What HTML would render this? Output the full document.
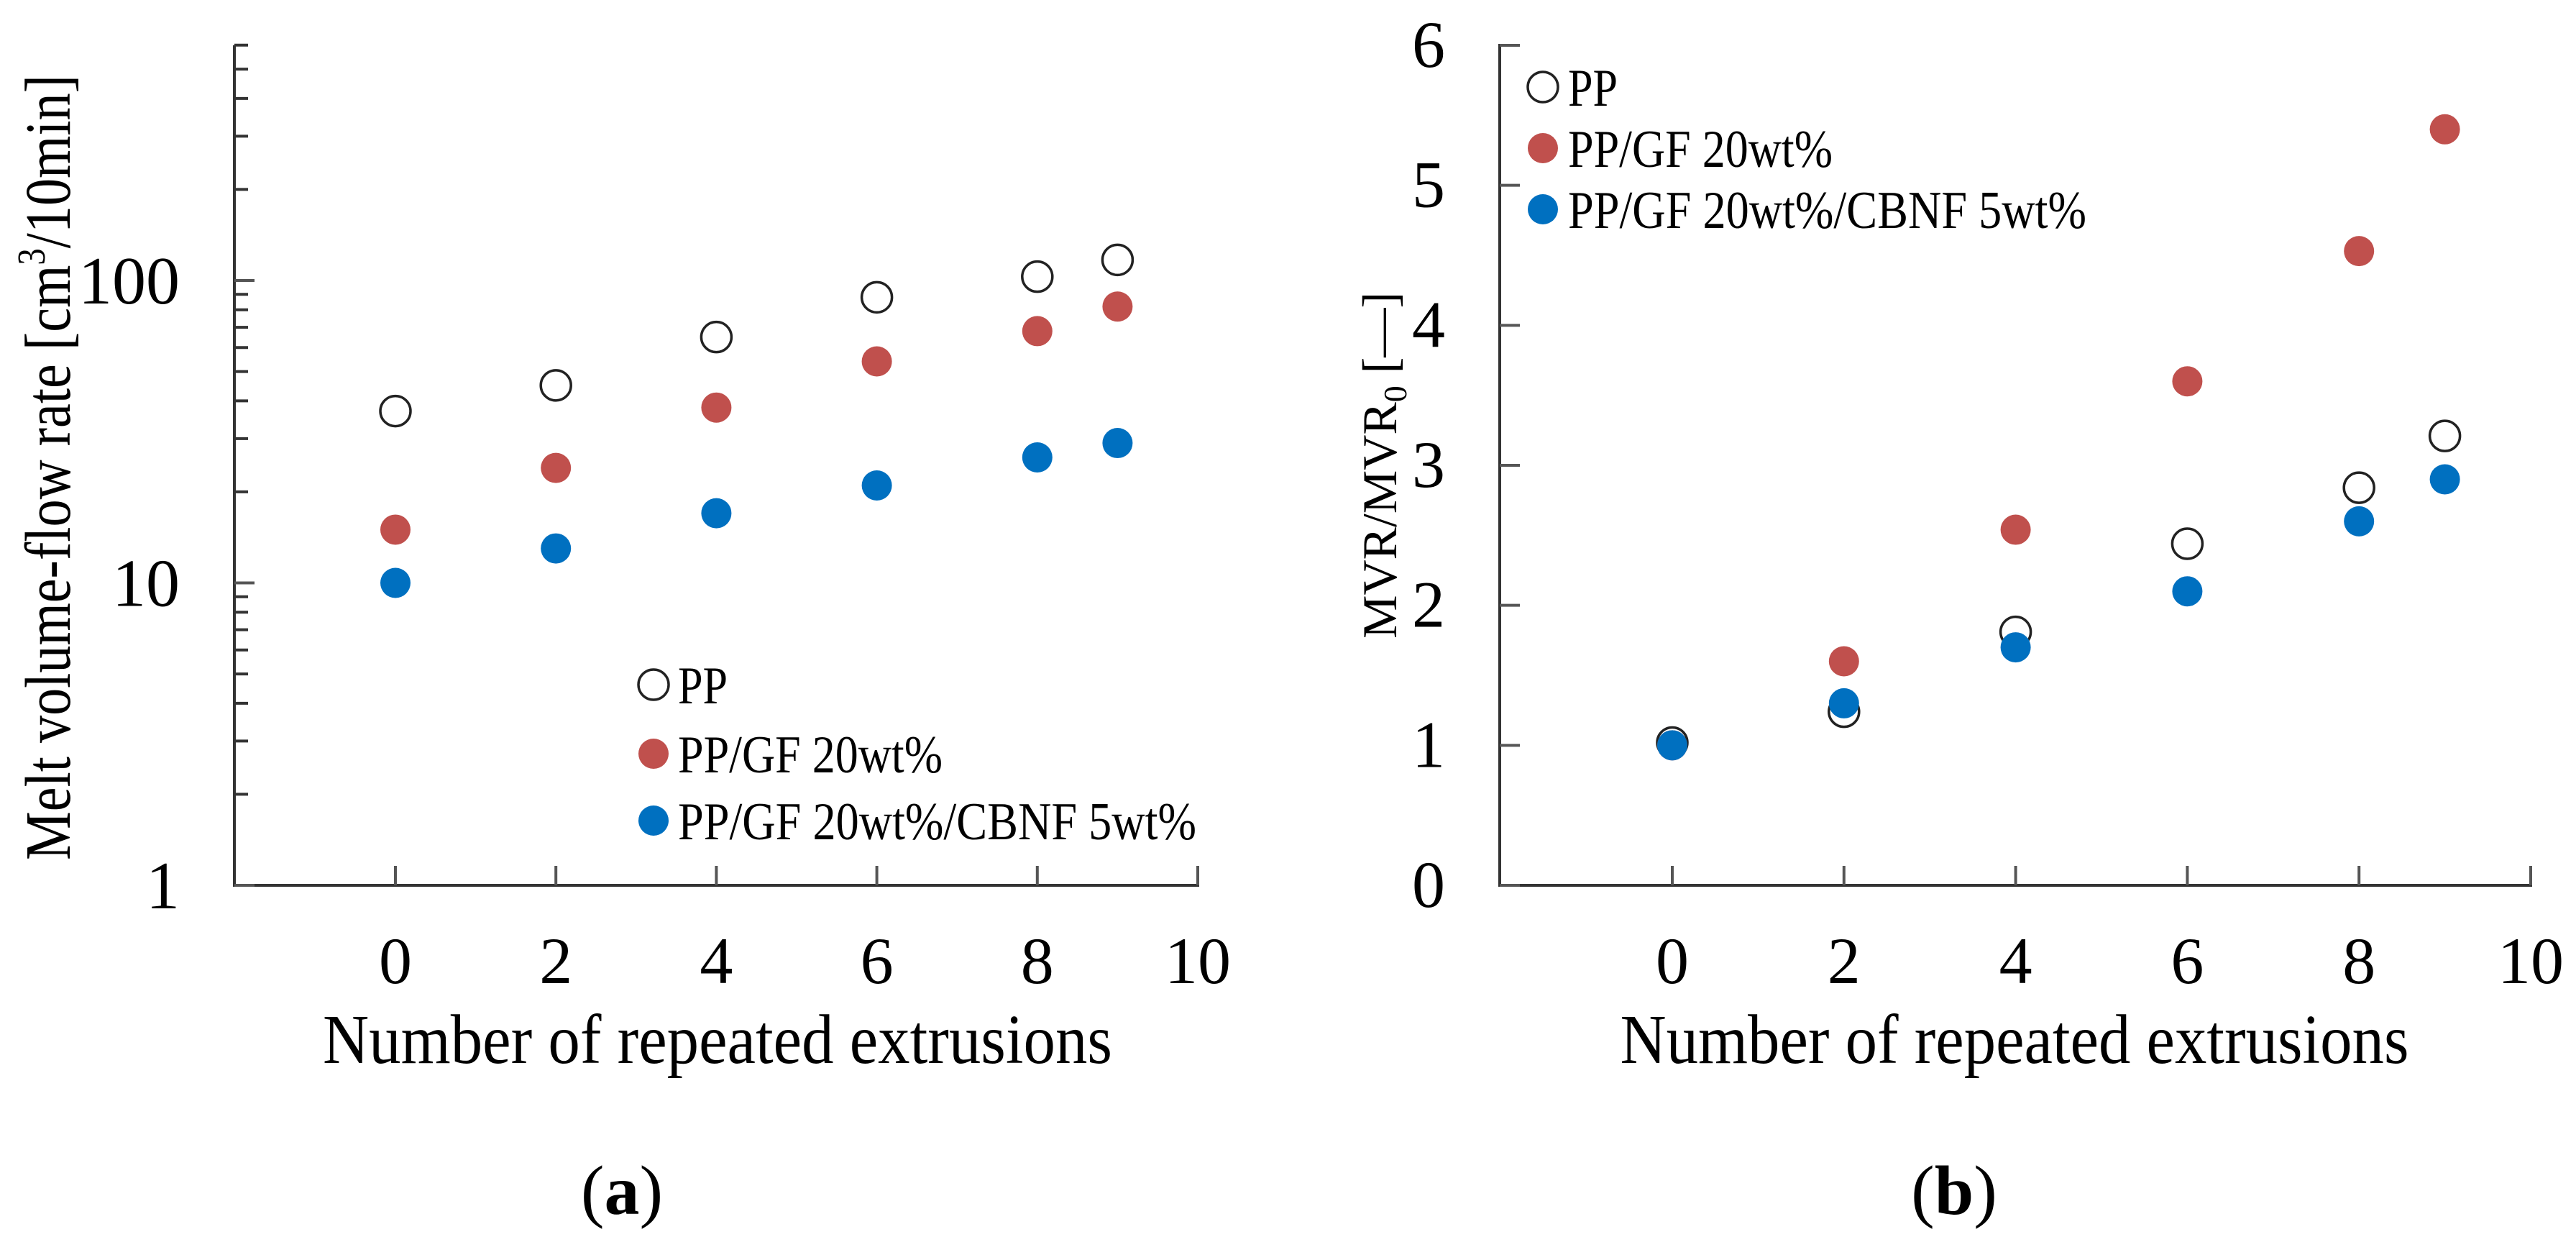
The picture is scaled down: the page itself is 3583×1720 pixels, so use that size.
<!DOCTYPE html>
<html><head><meta charset="utf-8"><style>
html,body{margin:0;padding:0;background:#fff;}
svg{display:block;font-family:"Liberation Serif",serif;}
</style></head><body>
<svg id="fig" width="3583" height="1720" viewBox="0 0 3583 1720" xmlns="http://www.w3.org/2000/svg">
<rect width="3583" height="1720" fill="#fff"/>
<g id="chartA"></g>
<g id="chartB"></g>
</svg>
<script>
const xCats = [0, 2, 4, 6, 8, 9];
const xTicks = [0, 2, 4, 6, 8, 10];
const seriesNames = ["PP", "PP/GF 20wt%", "PP/GF 20wt%/CBNF 5wt%"];
const mvrPP = [37, 45, 65, 88, 103, 117];
const mvrGF = [15, 24, 38, 54, 68, 82];
const mvrCBNF = [10, 13, 17, 21, 26, 29];
const ratioPP = [1.02, 1.24, 1.81, 2.44, 2.84, 3.21];
const ratioGF = [1.0, 1.6, 2.54, 3.6, 4.53, 5.4];
const ratioCBNF = [1.0, 1.3, 1.7, 2.1, 2.6, 2.9];
const logMajor = [1, 10, 100];
const logMinor = [2,3,4,5,6,7,8,9,20,30,40,50,60,70,80,90,200,300,400,500,600];
const linTicks = [0, 1, 2, 3, 4, 5, 6];
const legendWidths = [69, 368, 721];

const NS = "http://www.w3.org/2000/svg";
function mk(parent, tag, attrs, text) {
  const e = document.createElementNS(NS, tag);
  for (const k in attrs) e.setAttribute(k, attrs[k]);
  if (text !== undefined) e.textContent = text;
  parent.appendChild(e);
  return e;
}
const styles = [
  {fill: "#fff", stroke: "#222", sw: 3.5},
  {fill: "#c0504d", stroke: "none", sw: 0},
  {fill: "#0070c0", stroke: "none", sw: 0}
];
const R = 21;

// ---------- Chart A (log) ----------
const A = document.getElementById("chartA");
const ax0 = 326, axY0 = 1231, axTop = 63;
const xA = v => 550 + (1666 - 550) * v / 10;
const yA = v => 1231 - 420.5 * Math.log10(v);

let l;
l = mk(A, "path", {d: `M${ax0},${axTop} L${ax0},${axY0} L1666,${axY0} L1666,${axY0-27}`, fill: "none", stroke: "#333", "stroke-width": 4});


xTicks.forEach(t => {
  const tk = mk(A, "line", {x1: xA(t), x2: xA(t), y1: axY0, y2: axY0 - 27, stroke: "#555", "stroke-width": 4});
  
  
  const lb = mk(A, "text", {x: xA(t), y: 1367, "font-size": 92, "text-anchor": "middle"}, String(t));
  
  
});
logMajor.forEach(t => {
  const tk = mk(A, "line", {x1: ax0, x2: ax0 + 28, y1: yA(t), y2: yA(t), stroke: "#555", "stroke-width": 4});
  
  
  const lb = mk(A, "text", {x: 250, y: yA(t) + 32, "font-size": 94, "text-anchor": "end"}, String(t));
  
  
});
logMinor.forEach(t => {
  const tk = mk(A, "line", {x1: ax0, x2: ax0 + 19, y1: yA(t), y2: yA(t), stroke: "#333", "stroke-width": 4});
  
  
});
[mvrPP, mvrGF, mvrCBNF].forEach((s, si) => {
  s.forEach((v, i) => {
    const c = mk(A, "circle", {cx: xA(xCats[i]), cy: yA(v), r: R, fill: styles[si].fill, stroke: styles[si].stroke, "stroke-width": styles[si].sw});
    
    
  });
});
const legAY = [952, 1048, 1141];
seriesNames.forEach((n, i) => {
  const c = mk(A, "circle", {cx: 909, cy: legAY[i], r: R, fill: styles[i].fill, stroke: styles[i].stroke, "stroke-width": styles[i].sw});
  
  
  const t = mk(A, "text", {x: 943, y: legAY[i] + 26, "font-size": 74, textLength: legendWidths[i], lengthAdjust: "spacingAndGlyphs"}, n);
  
  
});
let tt = mk(A, "text", {x: 998, y: 1478, "font-size": 98, "text-anchor": "middle", textLength: 1098, lengthAdjust: "spacingAndGlyphs"}, "Number of repeated extrusions");


tt = mk(A, "text", {x: 0, y: 0, "font-size": 90, "text-anchor": "middle", transform: "translate(97,650) rotate(-90)", textLength: 1092, lengthAdjust: "spacingAndGlyphs"});


mk(tt, "tspan", {}, "Melt volume-flow rate [cm");
mk(tt, "tspan", {"font-size": 55, dy: -35}, "3");
mk(tt, "tspan", {dy: 35}, "/10min]");
tt = mk(A, "text", {x: 865, y: 1688, "font-size": 98, "text-anchor": "middle"});


mk(tt, "tspan", {}, "(");
mk(tt, "tspan", {"font-weight": "bold"}, "a");
mk(tt, "tspan", {}, ")");

// ---------- Chart B (linear) ----------
const B = document.getElementById("chartB");
const bx0 = 2086;
const xB = v => 2326 + (3520 - 2326) * v / 10;
const yB = v => 1231 - (1231 - 63) * v / 6;
l = mk(B, "path", {d: `M${bx0+28},63 L${bx0},63 L${bx0},1231 L3520,1231 L3520,1204`, fill: "none", stroke: "#333", "stroke-width": 4});


xTicks.forEach(t => {
  const tk = mk(B, "line", {x1: xB(t), x2: xB(t), y1: 1231, y2: 1204, stroke: "#555", "stroke-width": 4});
  
  
  const lb = mk(B, "text", {x: xB(t), y: 1367, "font-size": 92, "text-anchor": "middle"}, String(t));
  
  
});
linTicks.forEach(t => {
  const tk = mk(B, "line", {x1: bx0, x2: bx0 + 28, y1: yB(t), y2: yB(t), stroke: "#555", "stroke-width": 4});
  
  
  const lb = mk(B, "text", {x: 1987, y: yB(t) + 30, "font-size": 92, "text-anchor": "middle"}, String(t));
  
  
});
[ratioPP, ratioGF, ratioCBNF].forEach((s, si) => {
  s.forEach((v, i) => {
    const c = mk(B, "circle", {cx: xB(xCats[i]), cy: yB(v), r: R, fill: styles[si].fill, stroke: styles[si].stroke, "stroke-width": styles[si].sw});
    
    
  });
});
const legBY = [121, 206, 291];
seriesNames.forEach((n, i) => {
  const c = mk(B, "circle", {cx: 2146, cy: legBY[i], r: R, fill: styles[i].fill, stroke: styles[i].stroke, "stroke-width": styles[i].sw});
  
  
  const t = mk(B, "text", {x: 2181, y: legBY[i] + 26, "font-size": 74, textLength: legendWidths[i], lengthAdjust: "spacingAndGlyphs"}, n);
  
  
});
tt = mk(B, "text", {x: 2802, y: 1478, "font-size": 98, "text-anchor": "middle", textLength: 1097, lengthAdjust: "spacingAndGlyphs"}, "Number of repeated extrusions");


tt = mk(B, "text", {x: 0, y: 0, "font-size": 68, "text-anchor": "middle", transform: "translate(1942,647) rotate(-90)"});


mk(tt, "tspan", {}, "MVR/MVR");
mk(tt, "tspan", {"font-size": 46, dy: 14}, "0");
mk(tt, "tspan", {dy: -14}, " [—]");
tt = mk(B, "text", {x: 2718, y: 1688, "font-size": 98, "text-anchor": "middle"});


mk(tt, "tspan", {}, "(");
mk(tt, "tspan", {"font-weight": "bold"}, "b");
mk(tt, "tspan", {}, ")");
</script>
</body></html>
